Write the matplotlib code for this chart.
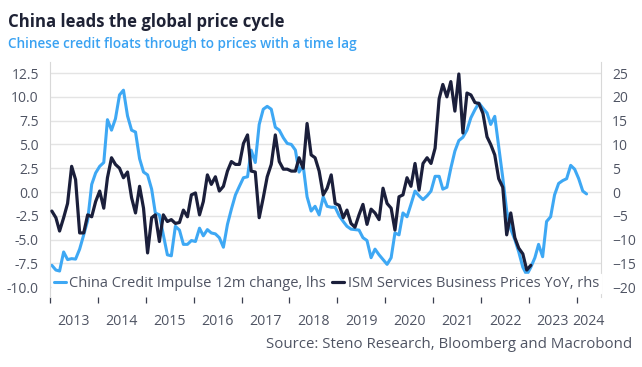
import matplotlib
matplotlib.use('Agg')
import matplotlib.pyplot as plt
import matplotlib.dates as mdates
import matplotlib.ticker as mticker
import numpy as np
import pandas as pd

# China credit impulse, 12m change (lhs), monthly from Jan 2013
china_impulse = [
    -7.7, -8.2, -8.3, -6.3, -7.1, -7.0, -7.05, -6.0, -4.5, -3.0,
    0.8, 2.0, 2.7, 3.1, 7.6, 6.5, 7.7, 10.2, 10.7, 8.0,
    6.5, 6.3, 3.5, 2.1, 1.8, 0.3, -2.2, -2.4, -4.5, -6.6,
    -6.7, -3.6, -4.0, -5.5, -5.5, -5.1, -5.2, -3.8, -4.6, -3.95,
    -4.3, -4.4, -4.8, -5.8, -3.4, -1.8, -0.3, 0.6, 1.5, 1.6,
    4.4, 3.1, 7.1, 8.7, 9.0, 8.7, 6.8, 6.5, 5.7, 5.1,
    5.0, 4.4, 2.1, 2.8, -0.5, -2.0, -1.5, -2.4, -0.5, -1.5,
    -1.6, -1.6, -2.5, -3.1, -3.6, -3.9, -3.95, -4.0, -4.8, -5.1,
    -6.9, -6.0, -6.6, -7.1, -7.6, -6.9, -4.3, -4.5, -2.2, -2.6,
    -1.3, 0.1, -0.4, -0.8, -0.4, 0.1, 1.65, 1.65, 0.3, 0.5,
    2.5, 4.3, 5.4, 5.75, 6.5, 7.8, 8.65, 9.35, 8.8, 8.3,
    7.1, 7.95, 4.8, 1.5, -2.0, -3.9, -5.0, -6.3, -7.9, -8.7,
    -7.9, -6.9, -5.5, -6.8, -3.1, -2.6, -0.3, 0.9, 1.2, 1.4,
    2.8, 2.4, 1.4, 0.1, -0.2,
]

# ISM services business prices YoY (rhs), monthly from Jan 2013
ism_prices = [
    -4.0, -5.4, -8.2, -5.4, -2.4, 5.4, 2.6, -8.6, -8.6, -4.8,
    -5.2, -2.0, 0.2, -3.4, 3.0, 7.2, 5.8, 5.0, 3.0, 4.2,
    -1.2, -4.4, 1.2, -3.4, -12.8, -5.4, -4.8, -10.4, -4.8, -6.2,
    -5.8, -6.6, -6.4, -3.8, -5.2, -0.6, -0.2, -4.8, -2.0, 3.6,
    1.6, 3.2, 0.2, 1.2, 4.4, 6.4, 5.8, 5.8, 10.2, 12.0,
    4.4, 4.2, -5.4, -1.2, 3.2, 5.8, 12.0, 6.4, 4.8, 4.8,
    4.4, 4.4, 7.2, 5.0, 14.4, 7.8, 7.2, 4.4, -0.6, 0.8,
    3.6, -2.4, -2.8, -5.4, -3.8, -6.6, -7.4, -4.8, -2.6, -6.8,
    -3.6, -4.4, -5.8, 0.8, -2.4, -3.4, -8.0, -1.0, -0.6, 3.0,
    1.2, 6.0, 0.4, 6.0, 7.2, 6.0, 9.2, 19.6, 22.6, 20.0,
    23.2, 17.0, 24.8, 12.4, 20.8, 20.4, 18.8, 18.6, 16.5, 11.6,
    10.0, 7.8, 2.8, 1.0, -9.0, -4.4, -9.6, -11.8, -13.0, -16.4,
    -15.4,
]

left_ticks = [-10.0, -7.5, -5.0, -2.5, 0.0, 2.5, 5.0, 7.5, 10.0, 12.5]
right_ticks = [-20, -15, -10, -5, 0, 5, 10, 15, 20, 25]
years = list(range(2013, 2025))

dates_cn = pd.date_range('2013-01-01', periods=len(china_impulse), freq='MS') + pd.Timedelta(days=14)
dates_ism = pd.date_range('2013-01-01', periods=len(ism_prices), freq='MS') + pd.Timedelta(days=14)

plt.rcParams['font.family'] = ['Open Sans', 'DejaVu Sans']

blue = '#3ea8f4'
navy = '#1b1f3b'
grey = '#4f5463'

fig = plt.figure(figsize=(6.42, 3.67), dpi=100)
ax = fig.add_axes([50/642, 1-297/367, 551/642, 235/367])
ax2 = ax.twinx()

l1, = ax.plot(dates_cn, china_impulse, color=blue, lw=2.2, solid_capstyle='round')
l2, = ax2.plot(dates_ism, ism_prices, color=navy, lw=2.3, solid_capstyle='round')

ax.set_ylim(-11.03, 13.66)
ax2.set_ylim(-22.06, 27.32)
ax.set_yticks(left_ticks)
ax.set_yticklabels(['%.1f' % t for t in left_ticks])
ax2.set_yticks(right_ticks)
ax.grid(axis='y', color='#e4e4e4', lw=1.0)
ax.set_axisbelow(True)

x0 = pd.Timestamp('2013-01-01')
x1 = pd.Timestamp('2024-07-03')
ax.set_xlim(x0, x1)

# year boundaries as major ticks, labels centred in each year
major = [mdates.date2num(pd.Timestamp(f'{y}-01-01')) for y in years]
mids = []
for y in years:
    a = mdates.date2num(pd.Timestamp(f'{y}-01-01'))
    b = min(mdates.date2num(pd.Timestamp(f'{y+1}-01-01')), mdates.date2num(x1))
    mids.append((a + b) / 2)
ax.xaxis.set_major_locator(mticker.FixedLocator(major))
ax.xaxis.set_major_formatter(mticker.NullFormatter())
ax.xaxis.set_minor_locator(mticker.FixedLocator(mids))
ax.xaxis.set_minor_formatter(mticker.FixedFormatter([str(y) for y in years]))
ax.tick_params(axis='x', which='major', length=4.5, width=0.9, color='#3a3f4f', direction='out')
ax.tick_params(axis='x', which='minor', length=0, pad=12, labelsize=10.2, labelcolor=grey)
ax.tick_params(axis='y', length=0, pad=8, labelsize=10, labelcolor=grey)
ax2.tick_params(axis='y', length=0, pad=8, labelsize=10, labelcolor=grey)

for s in ['top', 'bottom', 'right']:
    ax.spines[s].set_visible(False)
for s in ['top', 'bottom', 'left']:
    ax2.spines[s].set_visible(False)
ax.spines['left'].set_color('#d8d8d8')
ax2.spines['right'].set_color('#d8d8d8')

leg = ax2.legend([l1, l2], ['China Credit Impulse 12m change, lhs',
                            'ISM Services Business Prices YoY, rhs'],
                 loc='lower left', bbox_to_anchor=(0.003, 0.015), ncol=2,
                 fontsize=10.5, handlelength=0.8, handletextpad=0.25,
                 columnspacing=0.45, borderpad=0.15, borderaxespad=0,
                 fancybox=False, framealpha=1, edgecolor='white',
                 facecolor='white')
for t in leg.get_texts():
    t.set_color(grey)

fig.text(8/642, 1-22/367, 'China leads the global price cycle', fontsize=12.1,
         fontweight='bold', color='#1e2235', va='center', ha='left')
fig.text(8/642, 1-44/367, 'Chinese credit floats through to prices with a time lag',
         fontsize=9.85, fontweight='semibold', color='#3aa2f2', va='center', ha='left')
fig.text(632/642, 1-345/367, 'Source: Steno Research, Bloomberg and Macrobond',
         fontsize=10.8, color=grey, va='center', ha='right')

fig.savefig('out.png', dpi=100)
